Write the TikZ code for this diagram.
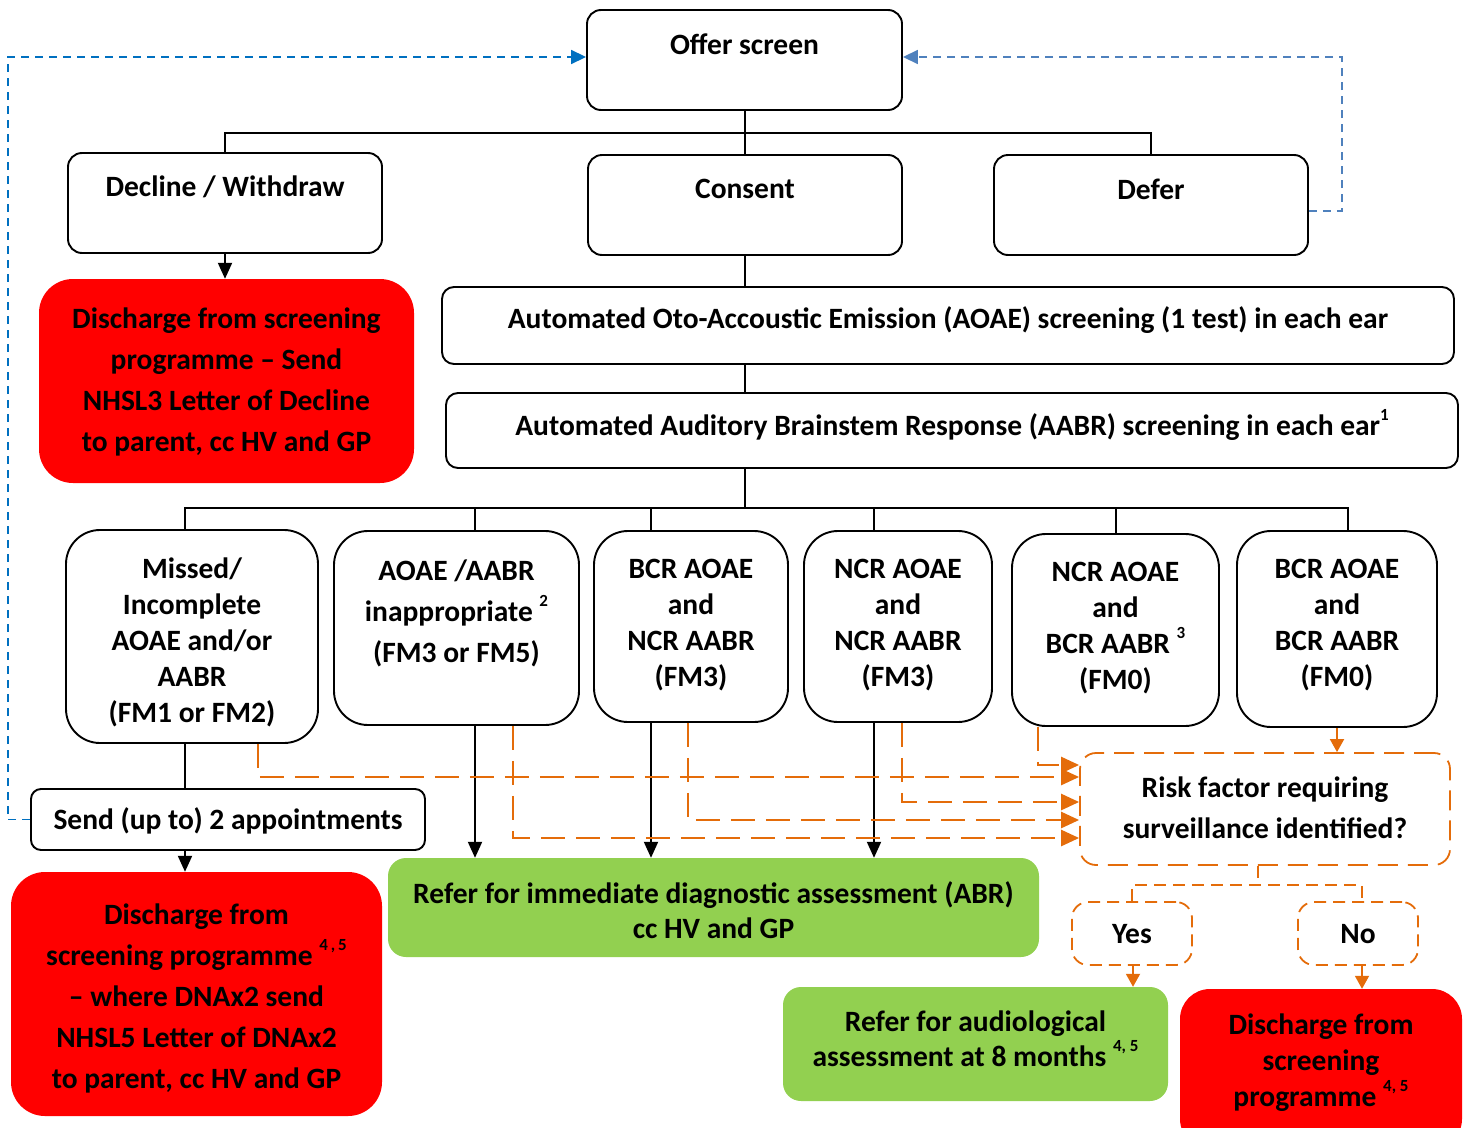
\documentclass[tikz,border=0pt]{standalone}
\usepackage{fontspec}
\setmainfont{Carlito}
\usetikzlibrary{arrows.meta}
\definecolor{stopred}{RGB}{255,0,0}
\definecolor{gogreen}{RGB}{146,208,80}
\definecolor{flagorange}{RGB}{228,108,10}
\definecolor{loopblue}{RGB}{0,112,192}
\definecolor{deferblue}{RGB}{79,129,189}
\newcommand{\supnum}[1]{\raisebox{0.5em}{\fontsize{17}{17}\selectfont #1}}

\tikzset{
  box/.style={shape=rectangle, draw, line width=1.9pt, rounded corners=14pt, inner sep=0pt},
  tallbox/.style={box, rounded corners=34pt},
  redbox/.style={shape=rectangle, fill=stopred, rounded corners=34pt, inner sep=0pt},
  greenbox/.style={shape=rectangle, fill=gogreen, rounded corners=18pt, inner sep=0pt},
  askbox/.style={shape=rectangle, draw=flagorange, line width=1.8pt, dash pattern=on 12pt off 7pt, rounded corners=16pt, inner sep=0pt},
  txt/.style={anchor=center, align=center, inner sep=0pt, font=\fontsize{29.5}{36}\selectfont\bfseries},
  loosetxt/.style={txt, font=\fontsize{29.5}{41}\selectfont\bfseries},
  tighttxt/.style={txt, font=\fontsize{29.5}{35}\selectfont\bfseries},
  wire/.style={line width=2pt},
  feed/.style={wire, -{Triangle[length=16pt,width=14pt]}},
  flagline/.style={flagorange, line width=2.6pt, dash pattern=on 24pt off 11pt, -{Triangle[length=18pt,width=16pt]}},
  flagfeed/.style={flagorange, line width=1.8pt, -{Triangle[length=13pt,width=14pt]}},
  askwire/.style={flagorange, line width=1.8pt, dash pattern=on 12pt off 7pt},
  recall/.style={line width=1.8pt, dash pattern=on 8pt off 6pt, -{Triangle[length=15pt,width=14pt]}}
}

\begin{document}
\begin{tikzpicture}[x=1pt, y=-1pt]
	\clip (0,0) rectangle (1466,1127);
	% Boxes:
	\node[box, minimum width=315pt, minimum height=100pt] (offer) at (744.5,60) {} node[txt] (offer-t) at (744.5,44) {Offer screen};
	\node[box, minimum width=314pt, minimum height=100pt] (decline) at (225,203) {} node[txt] (decline-t) at (225,187) {Decline / Withdraw};
	\node[box, minimum width=314pt, minimum height=100pt] (consent) at (745,205) {} node[txt] (consent-t) at (745,189) {Consent};
	\node[box, minimum width=314pt, minimum height=100pt] (defer) at (1151,205) {} node[txt] (defer-t) at (1151,189) {Defer};
	\node[redbox, minimum width=375pt, minimum height=204pt] (declred) at (226.5,381) {} node[loosetxt] (declred-t) at (226.5,382) {Discharge from screening\\programme – Send\\NHSL3 Letter of Decline\\to parent, cc HV and GP};
	\node[box, rounded corners=12pt, minimum width=1012pt, minimum height=77pt] (aoae) at (948,325.5) {} node[txt] (aoae-t) at (948,320) {Automated Oto-Accoustic Emission (AOAE) screening (1 test) in each ear};
	\node[box, rounded corners=12pt, minimum width=1012pt, minimum height=75pt] (aabr) at (952,430.5) {} node[txt] (aabr-t) at (952,425) {Automated Auditory Brainstem Response (AABR) screening in each ear\supnum{1}};
	\node[tallbox, minimum width=252pt, minimum height=213pt] (missed) at (192,636.5) {} node[txt] (missed-t) at (192,642) {Missed/\\Incomplete\\AOAE and/or\\AABR\\(FM1 or FM2)};
	\node[tallbox, minimum width=245pt, minimum height=194pt] (inapp) at (456.5,628) {} node[loosetxt] (inapp-t) at (456.5,613) {AOAE /AABR\\inappropriate \supnum{2}\\(FM3 or FM5)};
	\node[tallbox, minimum width=194pt, minimum height=191pt] (bcrncr) at (691,626.5) {} node[txt] (bcrncr-t) at (691,625) {BCR AOAE\\and\\NCR AABR\\(FM3)};
	\node[tallbox, minimum width=188pt, minimum height=191pt] (ncrncr) at (898,626.5) {} node[txt] (ncrncr-t) at (898,625) {NCR AOAE\\and\\NCR AABR\\(FM3)};
	\node[tallbox, minimum width=207pt, minimum height=192pt] (ncrbcr) at (1115.5,630) {} node[txt] (ncrbcr-t) at (1115.5,628) {NCR AOAE\\and\\BCR AABR \supnum{3}\\(FM0)};
	\node[tallbox, minimum width=200pt, minimum height=196pt] (bcrbcr) at (1337,629) {} node[txt] (bcrbcr-t) at (1337,625) {BCR AOAE\\and\\BCR AABR\\(FM0)};
	\node[box, rounded corners=10pt, minimum width=394pt, minimum height=61pt] (appt) at (228,819.5) {} node[txt] (appt-t) at (228,821) {Send (up to) 2 appointments};
	\node[redbox, minimum width=371pt, minimum height=244pt] (dnared) at (196.5,994) {} node[loosetxt] (dnared-t) at (196.5,998) {Discharge from\\screening programme \supnum{4\,,\,5}\\– where DNAx2 send\\NHSL5 Letter of DNAx2\\to parent, cc HV and GP};
	\node[greenbox, minimum width=651pt, minimum height=99pt] (diag) at (713.5,907.5) {} node[tighttxt] (diag-t) at (713.5,910.5) {Refer for immediate diagnostic assessment (ABR)\\cc HV and GP};
	\node[askbox, dash pattern=on 20pt off 10pt, minimum width=370pt, minimum height=112pt] (risk) at (1265,809) {} node[loosetxt] (risk-t) at (1265,808) {Risk factor requiring\\surveillance identified?};
	\node[askbox, minimum width=120pt, minimum height=63pt] (yes) at (1132,933.5) {} node[txt] (yes-t) at (1132,934) {Yes};
	\node[askbox, minimum width=120pt, minimum height=63pt] (no) at (1358,933.5) {} node[txt] (no-t) at (1358,934) {No};
	\node[greenbox, minimum width=385pt, minimum height=114pt] (surv) at (975.5,1044) {} node[tighttxt] (surv-t) at (975.5,1038.5) {Refer for audiological\\assessment at 8 months \supnum{4, 5}};
	\node[redbox, rounded corners=30pt, minimum width=282pt, minimum height=160pt] (dis3) at (1321,1069) {} node[txt] (dis3-t) at (1321,1062.5) {Discharge from\\screening\\programme \supnum{4, 5}};
	% Forks and loop corners:
	\coordinate (topfork) at (746,133);
	\coordinate (rowfork) at (746,508);
	\coordinate (askfork) at (1258,885);
	\coordinate (leftloop) at (8,57);
	\coordinate (rightloop) at (1342,57);
	% Wires:
	\draw[wire] (offer.south) -- (offer.south |- topfork);
	\draw[wire] (decline.north) |- (topfork) -| (defer.north);
	\draw[wire] (consent.north |- topfork) -- (consent.north);
	\draw[feed] (decline.south) -- (decline.south |- declred.north);
	\draw[wire] (consent.south) -- (consent.south |- aoae.north);
	\draw[wire] (consent.south |- aoae.south) -- (consent.south |- aabr.north);
	\draw[wire] (consent.south |- aabr.south) -- (consent.south |- rowfork);
	\draw[wire] ([xshift=-7pt]missed.north) |- (rowfork) -| ([xshift=11pt]bcrbcr.north);
	\draw[wire] (rowfork) -| ([xshift=18.5pt]inapp.north);
	\draw[wire] (rowfork) -| ([xshift=-40pt]bcrncr.north);
	\draw[wire] (rowfork) -| ([xshift=-24pt]ncrncr.north);
	\draw[wire] (rowfork) -| (ncrbcr.north);
	\draw[wire] ([xshift=-7pt]missed.south) -- ([xshift=-7pt]missed.south |- appt.north);
	\draw[feed] ([xshift=-43pt]appt.south) -- ([xshift=-43pt]appt.south |- dnared.north);
	\draw[feed] ([xshift=18.5pt]inapp.south) -- ([xshift=18.5pt]inapp.south |- diag.north);
	\draw[feed] ([xshift=-40pt]bcrncr.south) -- ([xshift=-40pt]bcrncr.south |- diag.north);
	\draw[feed] ([xshift=-24pt]ncrncr.south) -- ([xshift=-24pt]ncrncr.south |- diag.north);
	% Risk factor check:
	\draw[flagline] ([xshift=66pt]missed.south) |- ([yshift=32pt]risk.west);
	\draw[flagline] ([xshift=-77.5pt]ncrbcr.south) |- ([yshift=44pt]risk.west);
	\draw[flagline] ([xshift=4pt]ncrncr.south) |- ([yshift=7pt]risk.west);
	\draw[flagline] ([xshift=-3pt]bcrncr.south) |- ([yshift=-11pt]risk.west);
	\draw[flagline] ([xshift=56.5pt]inapp.south) |- ([yshift=-29pt]risk.west);
	\draw[flagfeed] (bcrbcr.south) -- (bcrbcr.south |- risk.north);
	\draw[askwire] ([xshift=-7pt]risk.south) -- (askfork);
	\draw[askwire] (yes.north) |- (askfork) -| ([xshift=4pt]no.north);
	\draw[flagfeed] ([xshift=1pt]yes.south) -- ([xshift=1pt]yes.south |- surv.north);
	\draw[flagfeed] ([xshift=4pt]no.south) -- ([xshift=4pt]no.south |- dis3.north);
	% Back to the offer:
	\draw[recall, loopblue] (appt.west) -| (leftloop) -- ([yshift=3pt]offer.west);
	\draw[recall, deferblue] ([yshift=-6pt]defer.east) -| (rightloop) -- ([yshift=3pt]offer.east);
\end{tikzpicture}
\end{document}
